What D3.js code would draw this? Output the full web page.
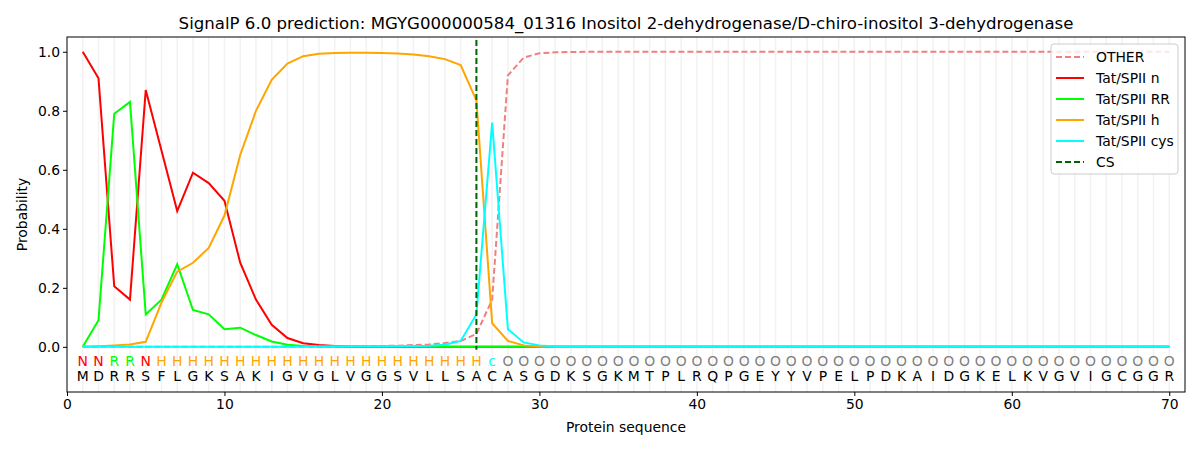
<!DOCTYPE html>
<html lang="en">
<head>
<meta charset="UTF-8" />
<title>SignalP 6.0 prediction</title>
<script src="https://d3js.org/d3.v7.min.js"></script>
<style>
  body { margin: 0; background: #fff; font-family: "DejaVu Sans", sans-serif; }
  svg { display: block; }
  .tick text { font-size: 13.9px; font-family: "DejaVu Sans", sans-serif; }
</style>
</head>
<body>
<svg id="chart" width="1200" height="450"></svg>
<script>
// per-position data, positions 1..70
const sequence = "MDRRSFLGKSAKIGVGLVGGSVLLSACASGDKSGKMTPLRQPGEYYVPELPDKAIDGKELKVGVIGCGGR".split("");
const labels = ("NNRRN" + "H".repeat(21) + "c" + "O".repeat(43)).split("");

const other = [0, 0, 0, 0, 0, 0, 0, 0, 0, 0,
  0, 0, 0, 0, 0, 0, 0.001, 0.001, 0.002, 0.003,
  0.004, 0.006, 0.008, 0.013, 0.02, 0.044, 0.16, 0.92, 0.98, 0.995,
  0.998, 0.999, 1, 1, 1, 1, 1, 1, 1, 1,
  1, 1, 1, 1, 1, 1, 1, 1, 1, 1,
  1, 1, 1, 1, 1, 1, 1, 1, 1, 1,
  1, 1, 1, 1, 1, 1, 1, 1, 1, 1];
const tatN = [1.0, 0.91, 0.205, 0.16, 0.87, 0.665, 0.46, 0.59, 0.555, 0.495,
  0.285, 0.16, 0.075, 0.03, 0.012, 0.006, 0.003, 0.001, 0, 0,
  0, 0, 0, 0, 0, 0, 0, 0, 0, 0,
  0, 0, 0, 0, 0, 0, 0, 0, 0, 0,
  0, 0, 0, 0, 0, 0, 0, 0, 0, 0,
  0, 0, 0, 0, 0, 0, 0, 0, 0, 0,
  0, 0, 0, 0, 0, 0, 0, 0, 0, 0];
const tatRR = [0, 0.09, 0.79, 0.83, 0.11, 0.16, 0.28, 0.125, 0.11, 0.06,
  0.065, 0.04, 0.018, 0.007, 0.003, 0.001, 0, 0, 0, 0,
  0, 0, 0, 0, 0, 0, 0, 0, 0, 0,
  0, 0, 0, 0, 0, 0, 0, 0, 0, 0,
  0, 0, 0, 0, 0, 0, 0, 0, 0, 0,
  0, 0, 0, 0, 0, 0, 0, 0, 0, 0,
  0, 0, 0, 0, 0, 0, 0, 0, 0, 0];
const tatH = [0, 0.002, 0.005, 0.008, 0.017, 0.15, 0.255, 0.285, 0.335, 0.445,
  0.65, 0.80, 0.905, 0.96, 0.985, 0.993, 0.996, 0.997, 0.997, 0.996,
  0.994, 0.991, 0.985, 0.975, 0.955, 0.835, 0.08, 0.02, 0.005, 0.001,
  0, 0, 0, 0, 0, 0, 0, 0, 0, 0,
  0, 0, 0, 0, 0, 0, 0, 0, 0, 0,
  0, 0, 0, 0, 0, 0, 0, 0, 0, 0,
  0, 0, 0, 0, 0, 0, 0, 0, 0, 0];
const tatCys = [0, 0, 0, 0, 0, 0, 0, 0, 0, 0,
  0, 0, 0, 0, 0, 0.001, 0.002, 0.002, 0.002, 0.002,
  0.003, 0.003, 0.004, 0.007, 0.02, 0.11, 0.76, 0.06, 0.015, 0.005,
  0.001, 0, 0, 0, 0, 0, 0, 0, 0, 0,
  0, 0, 0, 0, 0, 0, 0, 0, 0, 0,
  0, 0, 0, 0, 0, 0, 0, 0, 0, 0,
  0, 0, 0, 0, 0, 0, 0, 0, 0, 0];
const csPos = 26;

const xTicks = [0, 10, 20, 30, 40, 50, 60, 70];
const yTicks = [0, 0.2, 0.4, 0.6, 0.8, 1.0];

const series = [
  { name: "OTHER", values: other, color: "#f08080", dash: "6,3" },
  { name: "Tat/SPII n", values: tatN, color: "#ff0000" },
  { name: "Tat/SPII RR", values: tatRR, color: "#00ff00" },
  { name: "Tat/SPII h", values: tatH, color: "#ffa500" },
  { name: "Tat/SPII cys", values: tatCys, color: "#00ffff" }
];
const labelColor = { N: "#ff0000", R: "#00ff00", H: "#ffa500", c: "#00ffff", O: "#808080" };

const margin = { top: 37, right: 15, bottom: 58, left: 67 };
const width = 1200, height = 450;
const svg = d3.select("#chart");

const x = d3.scaleLinear().domain([0, 71]).range([margin.left, width - margin.right]);
const y = d3.scaleLinear().domain([-0.153, 1.05]).range([height - margin.bottom, margin.top]);

const positions = d3.range(1, 71);

// light vertical grid at each residue
svg.append("g")
  .selectAll("line")
  .data(positions)
  .join("line")
  .attr("x1", d => x(d)).attr("x2", d => x(d))
  .attr("y1", margin.top).attr("y2", height - margin.bottom)
  .attr("stroke", "#f2f2f2")
  .attr("stroke-width", 1.5);

const line = d3.line()
  .x((d, i) => x(i + 1))
  .y(d => y(d));

svg.append("g")
  .selectAll("path")
  .data(series)
  .join("path")
  .attr("d", d => line(d.values))
  .attr("fill", "none")
  .attr("stroke", d => d.color)
  .attr("stroke-width", 2)
  .attr("stroke-dasharray", d => d.dash || null);

// cleavage site
svg.append("line")
  .attr("x1", x(csPos)).attr("x2", x(csPos))
  .attr("y1", y(1.04)).attr("y2", y(-0.01))
  .attr("stroke", "#006400")
  .attr("stroke-width", 2)
  .attr("stroke-dasharray", "6,3");

// label row and sequence row
svg.append("g")
  .selectAll("text")
  .data(labels)
  .join("text")
  .attr("x", (d, i) => x(i + 1))
  .attr("y", y(-0.05))
  .attr("dy", "0.35em")
  .attr("text-anchor", "middle")
  .attr("font-size", 13.9)
  .attr("fill", d => labelColor[d])
  .text(d => d);

svg.append("g")
  .selectAll("text")
  .data(sequence)
  .join("text")
  .attr("x", (d, i) => x(i + 1))
  .attr("y", y(-0.1))
  .attr("dy", "0.35em")
  .attr("text-anchor", "middle")
  .attr("font-size", 13.9)
  .attr("fill", "#000")
  .text(d => d);

// axes
svg.append("g")
  .attr("transform", `translate(0,${height - margin.bottom})`)
  .call(d3.axisBottom(x).tickValues(xTicks).tickFormat(d3.format("d")).tickSizeOuter(0).tickSize(4));

svg.append("g")
  .attr("transform", `translate(${margin.left},0)`)
  .call(d3.axisLeft(y).tickValues(yTicks).tickFormat(d3.format(".1f")).tickSizeOuter(0).tickSize(4));

svg.selectAll(".domain").remove();
svg.append("rect")
  .attr("x", margin.left).attr("y", margin.top)
  .attr("width", width - margin.left - margin.right)
  .attr("height", height - margin.top - margin.bottom)
  .attr("fill", "none").attr("stroke", "#000").attr("stroke-width", 1);

svg.append("text")
  .attr("x", (margin.left + width - margin.right) / 2)
  .attr("y", 29)
  .attr("text-anchor", "middle")
  .attr("font-size", 16.6)
  .text("SignalP 6.0 prediction: MGYG000000584_01316 Inositol 2-dehydrogenase/D-chiro-inositol 3-dehydrogenase");

svg.append("text")
  .attr("x", (margin.left + width - margin.right) / 2)
  .attr("y", 432)
  .attr("text-anchor", "middle")
  .attr("font-size", 13.9)
  .text("Protein sequence");

svg.append("text")
  .attr("transform", `translate(27,${(margin.top + height - margin.bottom) / 2}) rotate(-90)`)
  .attr("text-anchor", "middle")
  .attr("font-size", 13.9)
  .text("Probability");

// legend
const legendItems = series.map(s => ({ name: s.name, color: s.color, dash: s.dash }))
  .concat([{ name: "CS", color: "#006400", dash: "6,3" }]);
const lg = svg.append("g").attr("transform", "translate(1051,44)");
lg.append("rect")
  .attr("width", 127).attr("height", 130)
  .attr("rx", 3)
  .attr("fill", "#fff").attr("fill-opacity", 0.8)
  .attr("stroke", "#ccc");
const item = lg.selectAll("g.item")
  .data(legendItems)
  .join("g")
  .attr("class", "item")
  .attr("transform", (d, i) => `translate(0,${13 + i * 21})`);
item.append("line")
  .attr("x1", 5).attr("x2", 33)
  .attr("stroke", d => d.color)
  .attr("stroke-width", 2)
  .attr("stroke-dasharray", d => d.dash || null);
item.append("text")
  .attr("x", 45).attr("dy", "0.35em")
  .attr("font-size", 13.9)
  .text(d => d.name);
</script>
</body>
</html>
